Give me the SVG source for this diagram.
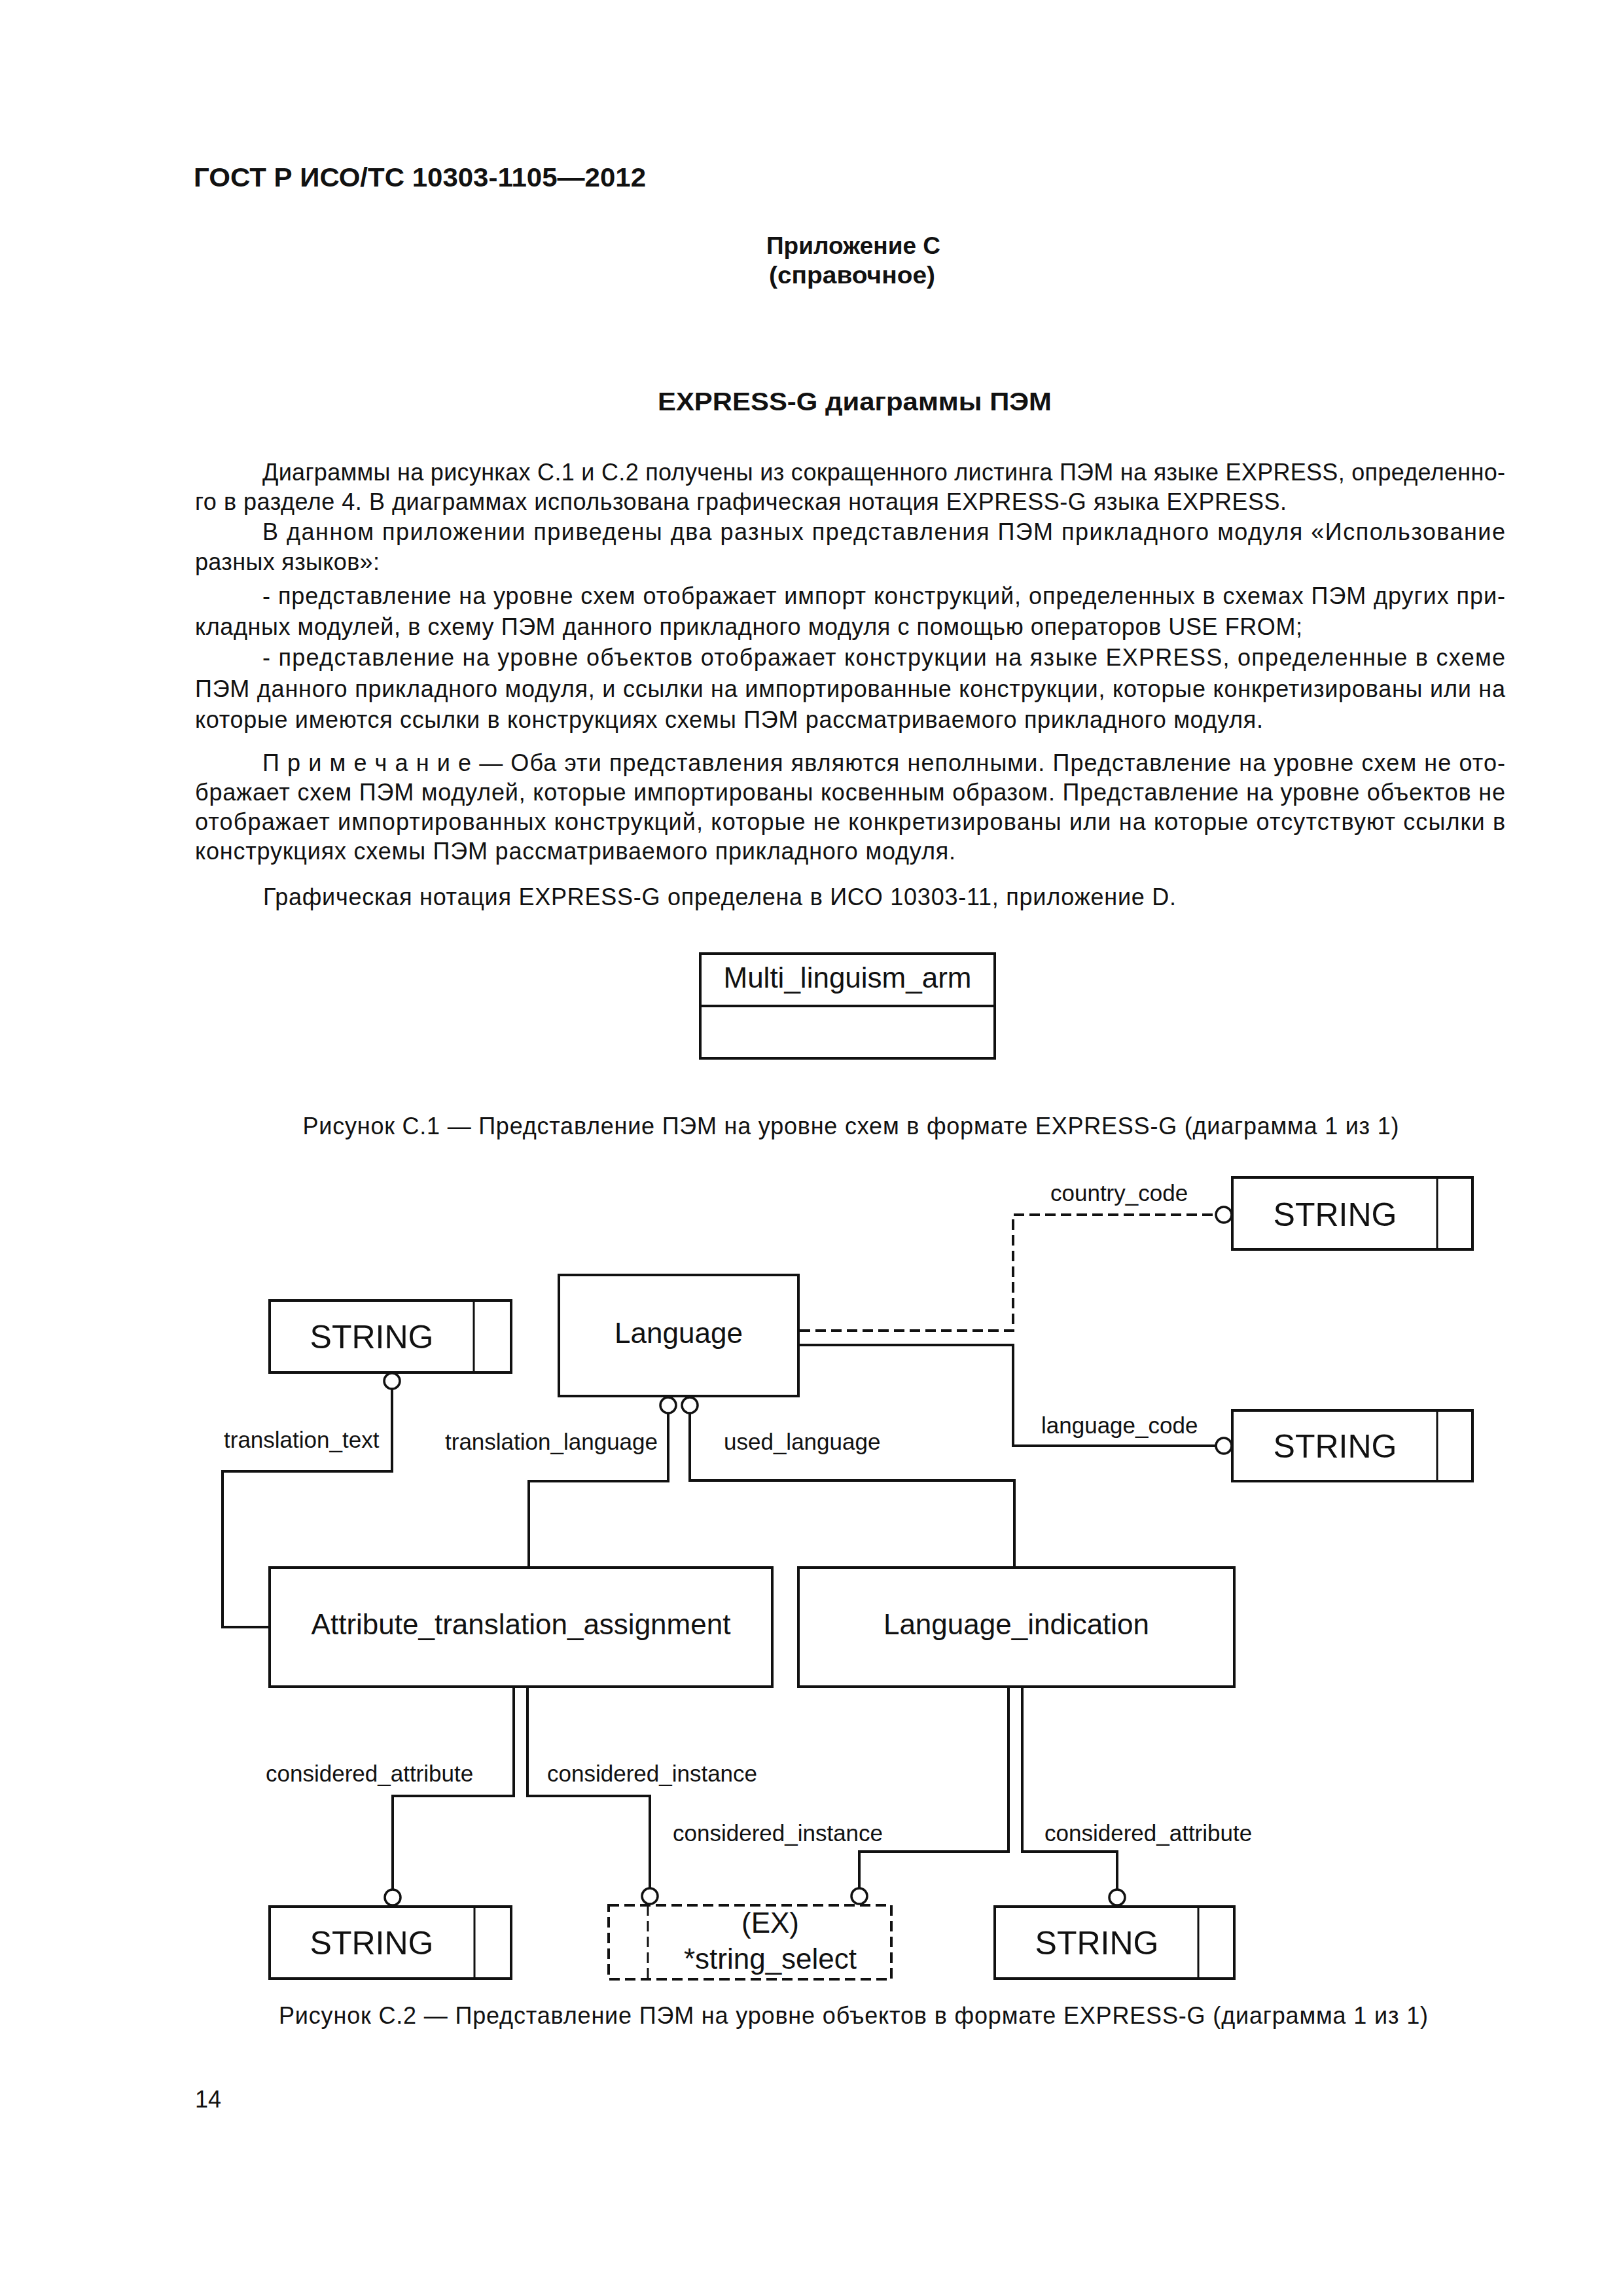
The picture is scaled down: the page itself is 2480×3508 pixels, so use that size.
<svg xmlns="http://www.w3.org/2000/svg" width="2480" height="3508" viewBox="0 0 2480 3508">
<style>
text{font-family:"Liberation Sans",Arial,sans-serif;fill:#111}
.b{font-weight:bold}
.body{font-size:36px}
.lbl{font-size:35px}
.ent{font-size:44px;text-anchor:middle}
.str{font-size:50px;text-anchor:middle}
.c{text-anchor:middle}
.box{fill:none;stroke:#111;stroke-width:4}
.div{fill:none;stroke:#111;stroke-width:3}
.ln{fill:none;stroke:#111;stroke-width:4}
.dash{stroke-dasharray:16 8}
.circ{fill:#fff;stroke:#111;stroke-width:3.5}
</style>
<rect width="2480" height="3508" fill="#fff"/>
<g id="page-text">
<text class="b" x="296" y="285" font-size="40" textLength="691" lengthAdjust="spacingAndGlyphs">ГОСТ Р ИСО/ТС 10303-1105—2012</text>
<text class="b c" x="1304" y="388" font-size="36" textLength="266" lengthAdjust="spacingAndGlyphs">Приложение С</text>
<text class="b c" x="1302" y="433" font-size="36" textLength="254" lengthAdjust="spacingAndGlyphs">(справочное)</text>
<text class="b c" x="1306" y="627" font-size="38" textLength="602" lengthAdjust="spacingAndGlyphs">EXPRESS-G диаграммы ПЭМ</text>
<text class="body" x="401" y="734" textLength="1899" lengthAdjust="spacing">Диаграммы на рисунках С.1 и С.2 получены из сокращенного листинга ПЭМ на языке EXPRESS, определенно-</text>
<text class="body" x="298" y="779" textLength="1668" lengthAdjust="spacing">го в разделе 4. В диаграммах использована графическая нотация EXPRESS-G языка EXPRESS.</text>
<text class="body" x="401" y="825" textLength="1899" lengthAdjust="spacing">В данном приложении приведены два разных представления ПЭМ прикладного модуля «Использование</text>
<text class="body" x="298" y="871" textLength="282" lengthAdjust="spacing">разных языков»:</text>
<text class="body" x="401" y="923" textLength="1899" lengthAdjust="spacing">- представление на уровне схем отображает импорт конструкций, определенных в схемах ПЭМ других при-</text>
<text class="body" x="298" y="970" textLength="1692" lengthAdjust="spacing">кладных модулей, в схему ПЭМ данного прикладного модуля с помощью операторов USE FROM;</text>
<text class="body" x="401" y="1017" textLength="1899" lengthAdjust="spacing">- представление на уровне объектов отображает конструкции на языке EXPRESS, определенные в схеме</text>
<text class="body" x="298" y="1065" textLength="2002" lengthAdjust="spacing">ПЭМ данного прикладного модуля, и ссылки на импортированные конструкции, которые конкретизированы или на</text>
<text class="body" x="298" y="1112" textLength="1632" lengthAdjust="spacing">которые имеются ссылки в конструкциях схемы ПЭМ рассматриваемого прикладного модуля.</text>
<text class="body" x="401" y="1178" textLength="1899" lengthAdjust="spacing">П р и м е ч а н и е — Оба эти представления являются неполными. Представление на уровне схем не ото-</text>
<text class="body" x="298" y="1223" textLength="2002" lengthAdjust="spacing">бражает схем ПЭМ модулей, которые импортированы косвенным образом. Представление на уровне объектов не</text>
<text class="body" x="298" y="1268" textLength="2002" lengthAdjust="spacing">отображает импортированных конструкций, которые не конкретизированы или на которые отсутствуют ссылки в</text>
<text class="body" x="298" y="1313" textLength="1162" lengthAdjust="spacing">конструкциях схемы ПЭМ рассматриваемого прикладного модуля.</text>
<text class="body" x="402" y="1383" textLength="1395" lengthAdjust="spacing">Графическая нотация EXPRESS-G определена в ИСО 10303-11, приложение D.</text>
<text class="body c" x="1300" y="1733" textLength="1675" lengthAdjust="spacing">Рисунок С.1 — Представление ПЭМ на уровне схем в формате EXPRESS-G (диаграмма 1 из 1)</text>
<text class="body c" x="1304" y="3092" textLength="1756" lengthAdjust="spacing">Рисунок С.2 — Представление ПЭМ на уровне объектов в формате EXPRESS-G (диаграмма 1 из 1)</text>
<text class="body" x="298" y="3220">14</text>
</g>
<g id="multi_linguism_arm">
<rect class="box" x="1070" y="1457" width="450" height="160"/>
<line class="box" x1="1070" y1="1537" x2="1520" y2="1537"/>
<text class="ent" x="1295" y="1509" font-size="43">Multi_linguism_arm</text>
</g>
<g id="connectors">
<path class="ln" d="M599,2122 V2248 H340 V2486 H412"/>
<circle class="circ" cx="599" cy="2110" r="12"/>
<text class="lbl" x="342" y="2212">translation_text</text>
<path class="ln" d="M1021,2159 V2263 H808 V2395"/>
<circle class="circ" cx="1021" cy="2147" r="12"/>
<text class="lbl" x="1005" y="2215" text-anchor="end">translation_language</text>
<path class="ln" d="M1054,2159 V2262 H1550 V2395"/>
<circle class="circ" cx="1054" cy="2147" r="12"/>
<text class="lbl" x="1106" y="2215">used_language</text>
<path class="ln dash" d="M1222,2033 H1548 V1856 H1858"/>
<circle class="circ" cx="1870" cy="1856" r="12"/>
<text class="lbl" x="1605" y="1835">country_code</text>
<path class="ln" d="M1222,2055 H1548 V2209 H1858"/>
<circle class="circ" cx="1870" cy="2209" r="12"/>
<text class="lbl" x="1591" y="2190">language_code</text>
<path class="ln" d="M785,2577 V2744 H600 V2887"/>
<circle class="circ" cx="600" cy="2899" r="12"/>
<text class="lbl" x="406" y="2722">considered_attribute</text>
<path class="ln" d="M806,2577 V2744 H993 V2885"/>
<circle class="circ" cx="993" cy="2897" r="12"/>
<text class="lbl" x="836" y="2722">considered_instance</text>
<path class="ln" d="M1541,2577 V2829 H1313 V2885"/>
<circle class="circ" cx="1313" cy="2897" r="12"/>
<text class="lbl" x="1028" y="2813">considered_instance</text>
<path class="ln" d="M1562,2577 V2829 H1707 V2887"/>
<circle class="circ" cx="1707" cy="2899" r="12"/>
<text class="lbl" x="1596" y="2813">considered_attribute</text>
</g>
<g id="string_translation_text">
<rect class="box" x="412" y="1987" width="369" height="110"/>
<line class="div" x1="724" y1="1987" x2="724" y2="2097"/>
<text class="str" x="568" y="2060">STRING</text>
</g>
<g id="language">
<rect class="box" x="854" y="1948" width="366" height="185"/>
<text class="ent" x="1037" y="2052">Language</text>
</g>
<g id="string_country_code">
<rect class="box" x="1883" y="1799" width="367" height="110"/>
<line class="div" x1="2196" y1="1799" x2="2196" y2="1909"/>
<text class="str" x="2040" y="1873">STRING</text>
</g>
<g id="string_language_code">
<rect class="box" x="1883" y="2155" width="367" height="108"/>
<line class="div" x1="2196" y1="2155" x2="2196" y2="2263"/>
<text class="str" x="2040" y="2227">STRING</text>
</g>
<g id="attribute_translation_assignment">
<rect class="box" x="412" y="2395" width="768" height="182"/>
<text class="ent" x="796" y="2497">Attribute_translation_assignment</text>
</g>
<g id="language_indication">
<rect class="box" x="1220" y="2395" width="666" height="182"/>
<text class="ent" x="1553" y="2497">Language_indication</text>
</g>
<g id="string_considered_attribute_1">
<rect class="box" x="412" y="2913" width="369" height="110"/>
<line class="div" x1="725" y1="2913" x2="725" y2="3023"/>
<text class="str" x="568" y="2986">STRING</text>
</g>
<g id="string_select">
<rect class="box dash" x="930" y="2911" width="432" height="113"/>
<line class="div dash" x1="990" y1="2911" x2="990" y2="3024"/>
<text class="ent" x="1177" y="2953">(EX)</text>
<text class="ent" x="1177" y="3008">*string_select</text>
</g>
<g id="string_considered_attribute_2">
<rect class="box" x="1520" y="2913" width="366" height="110"/>
<line class="div" x1="1831" y1="2913" x2="1831" y2="3023"/>
<text class="str" x="1676" y="2986">STRING</text>
</g>
</svg>
